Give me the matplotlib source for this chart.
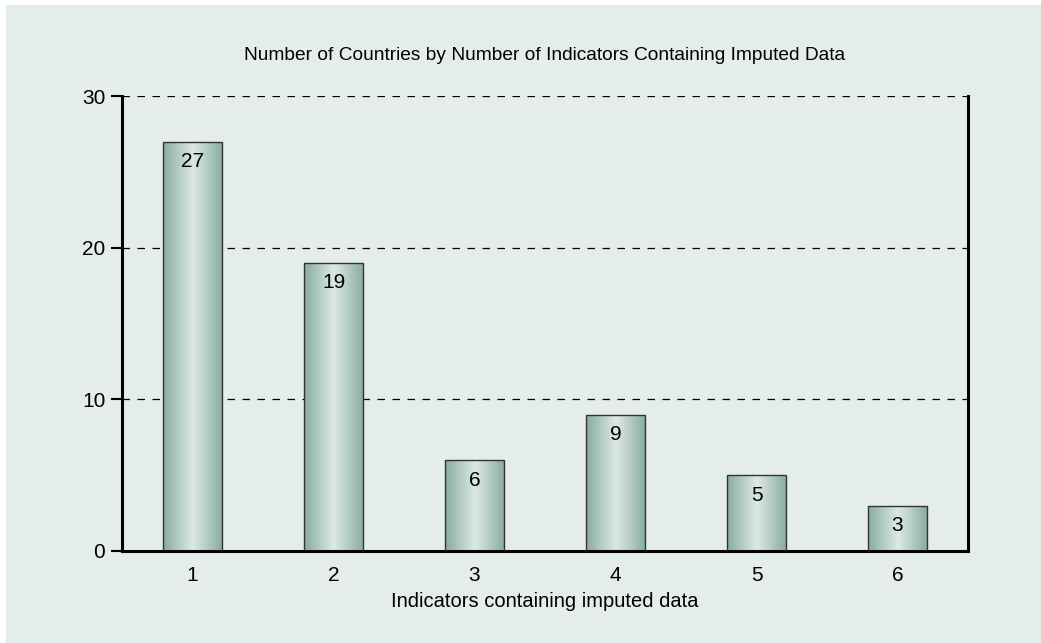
import numpy as np
import matplotlib.pyplot as plt
from matplotlib.patches import Rectangle
from matplotlib.colors import LinearSegmentedColormap


categories = ["1", "2", "3", "4", "5", "6"]
counts = [27, 19, 6, 9, 5, 3]
y_ticks = [0, 10, 20, 30]

BG = "#e4ede9"
OUTPUT = "out.png"

plt.rcParams["font.family"] = ["Liberation Sans", "DejaVu Sans"]


fig = plt.figure(figsize=(10.41, 6.43), dpi=100, facecolor="white")

# tinted panel, leaving a thin white strip at top and left
fig.patches.append(
    Rectangle((6 / 1041, 0), 1, 1 - 5 / 643,
              transform=fig.transFigure, facecolor=BG,
              edgecolor="none", zorder=-10)
)

ax = fig.add_axes([122 / 1041, 1 - 551 / 643, (968 - 122) / 1041, (551 - 96) / 643])
ax.set_facecolor("none")

x = np.arange(1, len(categories) + 1)
width = 0.425

cmap = LinearSegmentedColormap.from_list(
    "bar", ["#88ab9f", "#b2cbc2", "#dde9e4", "#b2cbc2", "#88ab9f"]
)
grad = np.linspace(0, 1, 256).reshape(1, -1)

bars = ax.bar(x, counts, width=width, facecolor="none",
              edgecolor="#333333", linewidth=1.0, zorder=3)

for bar, val in zip(bars, counts):
    x0 = bar.get_x()
    im = ax.imshow(grad, cmap=cmap, aspect="auto",
                   extent=(x0, x0 + width, 0, val), zorder=2)
    im.set_clip_path(bar)
    ax.text(bar.get_x() + width / 2, val - 0.7, str(val),
            ha="center", va="top", fontsize=15, color="black", zorder=4)

ax.set_xlim(0.5, 6.5)
ax.set_ylim(0, 30)

ax.set_yticks(y_ticks)
ax.set_xticks(x)
ax.set_xticklabels(categories)

ax.tick_params(axis="y", direction="out", length=8, width=1.5,
               labelsize=15, pad=4)
ax.tick_params(axis="x", length=0, labelsize=15, pad=11)

for yv in y_ticks[1:]:
    ax.axhline(yv, color="black", linestyle=(0, (6, 6)),
               linewidth=0.9, zorder=1)

ax.spines["top"].set_visible(False)
for side in ["left", "right", "bottom"]:
    ax.spines[side].set_linewidth(2.2)

ax.set_xlabel("Indicators containing imputed data", fontsize=14.5,
              labelpad=5)

fig.text(545 / 1041, 1 - 55 / 643,
         "Number of Countries by Number of Indicators Containing Imputed Data",
         ha="center", va="center", fontsize=13.8)

fig.savefig(OUTPUT, dpi=100, facecolor=fig.get_facecolor())
